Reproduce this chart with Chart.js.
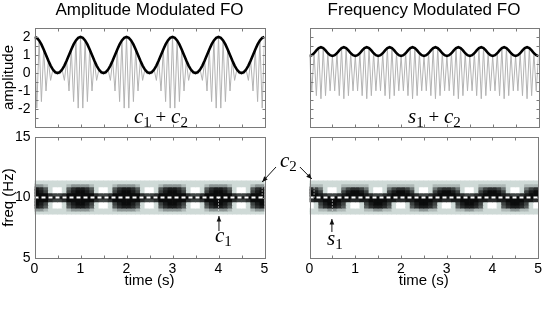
<!DOCTYPE html>
<html>
<head>
<meta charset="utf-8">
<script src="https://cdn.jsdelivr.net/npm/chart.js@4"></script>
<style>
  html, body { margin: 0; padding: 0; background: #fff; }
  #page { position: relative; width: 545px; height: 318px; overflow: hidden; }
  canvas { position: absolute; left: 0; top: 0; }
  .note { position: absolute; font: 19px "Liberation Serif", serif; color: #000; white-space: nowrap; line-height: 20px; }
  .note i { font-size: 21px; }
  .note sub { font-size: 15px; line-height: 0; vertical-align: -4px; }
</style>
</head>
<body>
<div id="page">
  <canvas id="am_trace" width="545" height="318"></canvas>
  <canvas id="fm_trace" width="545" height="318"></canvas>
  <canvas id="am_spec" width="545" height="318"></canvas>
  <canvas id="fm_spec" width="545" height="318"></canvas>
  <div class="note" style="left:134px;top:106px"><i>c</i><sub>1</sub> + <i>c</i><sub>2</sub></div>
  <div class="note" style="left:408px;top:106px"><i>s</i><sub>1</sub> + <i>c</i><sub>2</sub></div>
  <div class="note" style="left:280px;top:150px"><i>c</i><sub>2</sub></div>
  <div class="note" style="left:215px;top:225px"><i>c</i><sub>1</sub></div>
  <div class="note" style="left:327px;top:228px"><i>s</i><sub>1</sub></div>
</div>
<script>
var time_s = [0,0.05,0.1,0.15,0.2,0.25,0.3,0.35,0.4,0.45,0.5,0.55,0.6,0.65,0.7,0.75,0.8,0.85,0.9,0.95,
  1,1.05,1.1,1.15,1.2,1.25,1.3,1.35,1.4,1.45,1.5,1.55,1.6,1.65,1.7,1.75,1.8,1.85,1.9,1.95,
  2,2.05,2.1,2.15,2.2,2.25,2.3,2.35,2.4,2.45,2.5,2.55,2.6,2.65,2.7,2.75,2.8,2.85,2.9,2.95,
  3,3.05,3.1,3.15,3.2,3.25,3.3,3.35,3.4,3.45,3.5,3.55,3.6,3.65,3.7,3.75,3.8,3.85,3.9,3.95,
  4,4.05,4.1,4.15,4.2,4.25,4.3,4.35,4.4,4.45,4.5,4.55,4.6,4.65,4.7,4.75,4.8,4.85,4.9,4.95,5];

var am_wave = [2,-1.95,1.81,-1.59,1.31,-1,0.69,-0.41,0.19,-0.05,0,-0.05,0.19,-0.41,0.69,-1,1.31,-1.59,1.81,-1.95,
  2,-1.95,1.81,-1.59,1.31,-1,0.69,-0.41,0.19,-0.05,0,-0.05,0.19,-0.41,0.69,-1,1.31,-1.59,1.81,-1.95,
  2,-1.95,1.81,-1.59,1.31,-1,0.69,-0.41,0.19,-0.05,0,-0.05,0.19,-0.41,0.69,-1,1.31,-1.59,1.81,-1.95,
  2,-1.95,1.81,-1.59,1.31,-1,0.69,-0.41,0.19,-0.05,0,-0.05,0.19,-0.41,0.69,-1,1.31,-1.59,1.81,-1.95,
  2,-1.95,1.81,-1.59,1.31,-1,0.69,-0.41,0.19,-0.05,0,-0.05,0.19,-0.41,0.69,-1,1.31,-1.59,1.81,-1.95,2];
var am_env = [2,1.95,1.81,1.59,1.31,1,0.69,0.41,0.19,0.05,0,0.05,0.19,0.41,0.69,1,1.31,1.59,1.81,1.95,
  2,1.95,1.81,1.59,1.31,1,0.69,0.41,0.19,0.05,0,0.05,0.19,0.41,0.69,1,1.31,1.59,1.81,1.95,
  2,1.95,1.81,1.59,1.31,1,0.69,0.41,0.19,0.05,0,0.05,0.19,0.41,0.69,1,1.31,1.59,1.81,1.95,
  2,1.95,1.81,1.59,1.31,1,0.69,0.41,0.19,0.05,0,0.05,0.19,0.41,0.69,1,1.31,1.59,1.81,1.95,
  2,1.95,1.81,1.59,1.31,1,0.69,0.41,0.19,0.05,0,0.05,0.19,0.41,0.69,1,1.31,1.59,1.81,1.95,2];

var fm_wave = [0.95,-0.99,1.1,-1.26,1.38,-1.43,1.38,-1.26,1.1,-0.99,0.95,-0.99,1.1,-1.26,1.38,-1.43,1.38,-1.26,1.1,-0.99,
  0.95,-0.99,1.1,-1.26,1.38,-1.43,1.38,-1.26,1.1,-0.99,0.95,-0.99,1.1,-1.26,1.38,-1.43,1.38,-1.26,1.1,-0.99,
  0.95,-0.99,1.1,-1.26,1.38,-1.43,1.38,-1.26,1.1,-0.99,0.95,-0.99,1.1,-1.26,1.38,-1.43,1.38,-1.26,1.1,-0.99,
  0.95,-0.99,1.1,-1.26,1.38,-1.43,1.38,-1.26,1.1,-0.99,0.95,-0.99,1.1,-1.26,1.38,-1.43,1.38,-1.26,1.1,-0.99,
  0.95,-0.99,1.1,-1.26,1.38,-1.43,1.38,-1.26,1.1,-0.99,0.95,-0.99,1.1,-1.26,1.38,-1.43,1.38,-1.26,1.1,-0.99,0.95];
var fm_env = [0.95,0.99,1.1,1.26,1.38,1.43,1.38,1.26,1.1,0.99,0.95,0.99,1.1,1.26,1.38,1.43,1.38,1.26,1.1,0.99,
  0.95,0.99,1.1,1.26,1.38,1.43,1.38,1.26,1.1,0.99,0.95,0.99,1.1,1.26,1.38,1.43,1.38,1.26,1.1,0.99,
  0.95,0.99,1.1,1.26,1.38,1.43,1.38,1.26,1.1,0.99,0.95,0.99,1.1,1.26,1.38,1.43,1.38,1.26,1.1,0.99,
  0.95,0.99,1.1,1.26,1.38,1.43,1.38,1.26,1.1,0.99,0.95,0.99,1.1,1.26,1.38,1.43,1.38,1.26,1.1,0.99,
  0.95,0.99,1.1,1.26,1.38,1.43,1.38,1.26,1.1,0.99,0.95,0.99,1.1,1.26,1.38,1.43,1.38,1.26,1.1,0.99,0.95];

// spectrogram cells: one list per freq row, one level (0 to 9) per 0.1 s
var spec_times = [0.05,0.15,0.25,0.35,0.45,0.55,0.65,0.75,0.85,0.95,1.05,1.15,1.25,1.35,1.45,1.55,1.65,1.75,1.85,1.95,
  2.05,2.15,2.25,2.35,2.45,2.55,2.65,2.75,2.85,2.95,3.05,3.15,3.25,3.35,3.45,3.55,3.65,3.75,3.85,3.95,
  4.05,4.15,4.25,4.35,4.45,4.55,4.65,4.75,4.85,4.95];
var spec_freqs = [11.25,11,10.75,10.5,10.25,10,9.75,9.5,9.25,9,8.75];

var am_cells = [
  [1,1,1,1,1,1,1,1,1,1, 1,1,1,1,1,1,1,1,1,1, 1,1,1,1,1,1,1,1,1,1, 1,1,1,1,1,1,1,1,1,1, 1,1,1,1,1,1,1,1,1,1],
  [3,3,2,1,1,1,1,2,3,3, 3,3,2,1,1,1,1,2,3,3, 3,3,2,1,1,1,1,2,3,3, 3,3,2,1,1,1,1,2,3,3, 3,3,2,1,1,1,1,2,3,3],
  [8,7,5,1,0,0,1,5,7,8, 8,7,5,1,0,0,1,5,7,8, 8,7,5,1,0,0,1,5,7,8, 8,7,5,1,0,0,1,5,7,8, 8,7,5,1,0,0,1,5,7,8],
  [9,8,6,1,0,0,1,6,8,9, 9,8,6,1,0,0,1,6,8,9, 9,8,6,1,0,0,1,6,8,9, 9,8,6,1,0,0,1,6,8,9, 9,8,6,1,0,0,1,6,8,9],
  [9,9,9,7,6,6,7,9,9,9, 9,9,9,7,6,6,7,9,9,9, 9,9,9,7,6,6,7,9,9,9, 9,9,9,7,6,6,7,9,9,9, 9,9,9,7,6,6,7,9,9,9],
  [9,9,9,9,8,8,9,9,9,9, 9,9,9,9,8,8,9,9,9,9, 9,9,9,9,8,8,9,9,9,9, 9,9,9,9,8,8,9,9,9,9, 9,9,9,9,8,8,9,9,9,9],
  [9,9,9,7,6,6,7,9,9,9, 9,9,9,7,6,6,7,9,9,9, 9,9,9,7,6,6,7,9,9,9, 9,9,9,7,6,6,7,9,9,9, 9,9,9,7,6,6,7,9,9,9],
  [9,8,6,1,0,0,1,6,8,9, 9,8,6,1,0,0,1,6,8,9, 9,8,6,1,0,0,1,6,8,9, 9,8,6,1,0,0,1,6,8,9, 9,8,6,1,0,0,1,6,8,9],
  [8,7,5,1,0,0,1,5,7,8, 8,7,5,1,0,0,1,5,7,8, 8,7,5,1,0,0,1,5,7,8, 8,7,5,1,0,0,1,5,7,8, 8,7,5,1,0,0,1,5,7,8],
  [3,3,2,1,1,1,1,2,3,3, 3,3,2,1,1,1,1,2,3,3, 3,3,2,1,1,1,1,2,3,3, 3,3,2,1,1,1,1,2,3,3, 3,3,2,1,1,1,1,2,3,3],
  [1,1,1,1,1,1,1,1,1,1, 1,1,1,1,1,1,1,1,1,1, 1,1,1,1,1,1,1,1,1,1, 1,1,1,1,1,1,1,1,1,1, 1,1,1,1,1,1,1,1,1,1]
];
var fm_cells = [
  [1,1,1,1,1,1,1,1,1,1, 1,1,1,1,1,1,1,1,1,1, 1,1,1,1,1,1,1,1,1,1, 1,1,1,1,1,1,1,1,1,1, 1,1,1,1,1,1,1,1,1,1],
  [2,2,2,1,1,1,1,2,2,2, 2,2,2,1,1,1,1,2,2,2, 2,2,2,1,1,1,1,2,2,2, 2,2,2,1,1,1,1,2,2,2, 2,2,2,1,1,1,1,2,2,2],
  [7,6,4,1,0,0,1,4,6,7, 7,6,4,1,0,0,1,4,6,7, 7,6,4,1,0,0,1,4,6,7, 7,6,4,1,0,0,1,4,6,7, 7,6,4,1,0,0,1,4,6,7],
  [9,8,6,1,0,0,1,6,8,9, 9,8,6,1,0,0,1,6,8,9, 9,8,6,1,0,0,1,6,8,9, 9,8,6,1,0,0,1,6,8,9, 9,8,6,1,0,0,1,6,8,9],
  [9,9,8,7,6,6,7,8,9,9, 9,9,8,7,6,6,7,8,9,9, 9,9,8,7,6,6,7,8,9,9, 9,9,8,7,6,6,7,8,9,9, 9,9,8,7,6,6,7,8,9,9],
  [8,9,9,9,9,9,9,9,9,8, 8,9,9,9,9,9,9,9,9,8, 8,9,9,9,9,9,9,9,9,8, 8,9,9,9,9,9,9,9,9,8, 8,9,9,9,9,9,9,9,9,8],
  [7,8,8,9,9,9,9,8,8,7, 7,8,8,9,9,9,9,8,8,7, 7,8,8,9,9,9,9,8,8,7, 7,8,8,9,9,9,9,8,8,7, 7,8,8,9,9,9,9,8,8,7],
  [0,1,6,8,9,9,8,6,1,0, 0,1,6,8,9,9,8,6,1,0, 0,1,6,8,9,9,8,6,1,0, 0,1,6,8,9,9,8,6,1,0, 0,1,6,8,9,9,8,6,1,0],
  [0,1,5,7,8,8,7,5,1,0, 0,1,5,7,8,8,7,5,1,0, 0,1,5,7,8,8,7,5,1,0, 0,1,5,7,8,8,7,5,1,0, 0,1,5,7,8,8,7,5,1,0],
  [1,1,2,2,3,3,2,2,1,1, 1,1,2,2,3,3,2,2,1,1, 1,1,2,2,3,3,2,2,1,1, 1,1,2,2,3,3,2,2,1,1, 1,1,2,2,3,3,2,2,1,1],
  [1,1,1,1,1,1,1,1,1,1, 1,1,1,1,1,1,1,1,1,1, 1,1,1,1,1,1,1,1,1,1, 1,1,1,1,1,1,1,1,1,1, 1,1,1,1,1,1,1,1,1,1]
];

var ridge_times = [0,5];
var ridge_freqs = [10,10];
var am_c1_times = [4,4];
var am_c1_freqs = [10,8.9];
var am_c2_times = [4.95,4.95];
var am_c2_freqs = [10,11];
var fm_s1_times = [0.5,0.5];
var fm_s1_freqs = [10,8.9];
var fm_c2_times = [0.1,0.1];
var fm_c2_freqs = [10,11];

var level_cols = ['#ffffff','#cfdad7','#aeb8b6','#8c9594','#6e7675','#555b5a','#3f4443','#2b2e2e','#1a1c1c','#0b0c0c'];
var axis_col = '#7a7a7a';
var label_font = 'Liberation Sans';
var row_h = 0.25;

function pairs (xs, ys) {
  return xs.map(function (x, i) { return {x: x, y: ys[i]}; });
}

// frame, inward ticks and the small arrows
var frame_plugin = {
  id: 'frame',
  afterDraw: function (chart, args, opts) {
    var ctx = chart.ctx, a = chart.chartArea;
    var l = Math.round(a.left) + 0.5, r = Math.round(a.right) + 0.5;
    var t = Math.round(a.top) + 0.5, b = Math.round(a.bottom) + 0.5;
    ctx.save();
    ctx.strokeStyle = axis_col;
    ctx.lineWidth = 1;
    ctx.strokeRect(l, t, r - l, b - t);
    ctx.beginPath();
    chart.scales.x.ticks.forEach(function (tick, i) {
      var px = Math.round(chart.scales.x.getPixelForTick(i)) + 0.5;
      ctx.moveTo(px, t); ctx.lineTo(px, t + 3);
      ctx.moveTo(px, b); ctx.lineTo(px, b - 3);
    });
    chart.scales.y.ticks.forEach(function (tick, i) {
      var py = Math.round(chart.scales.y.getPixelForTick(i)) + 0.5;
      ctx.moveTo(l, py); ctx.lineTo(l + 3, py);
      ctx.moveTo(r, py); ctx.lineTo(r - 3, py);
    });
    ctx.stroke();

    ctx.strokeStyle = '#111';
    ctx.fillStyle = '#111';
    (opts.arrows || []).forEach(function (ar) {
      var x0 = chart.scales.x.getPixelForValue(ar[0]), y0 = chart.scales.y.getPixelForValue(ar[1]);
      var x1 = chart.scales.x.getPixelForValue(ar[2]), y1 = chart.scales.y.getPixelForValue(ar[3]);
      var ang = Math.atan2(y1 - y0, x1 - x0);
      ctx.beginPath();
      ctx.moveTo(x0, y0); ctx.lineTo(x1, y1);
      ctx.stroke();
      ctx.beginPath();
      ctx.moveTo(x1, y1);
      ctx.lineTo(x1 - 6 * Math.cos(ang - 0.4), y1 - 6 * Math.sin(ang - 0.4));
      ctx.lineTo(x1 - 6 * Math.cos(ang + 0.4), y1 - 6 * Math.sin(ang + 0.4));
      ctx.closePath();
      ctx.fill();
    });
    ctx.restore();
  }
};

function base_options (o) {
  var tick_font = {family: label_font, size: 14};
  return {
    responsive: false,
    animation: false,
    devicePixelRatio: 1,
    layout: {padding: {left: o.left, right: 545 - o.right, top: o.title ? 0 : o.top, bottom: o.bottom}},
    plugins: {
      legend: {display: false},
      tooltip: {enabled: false},
      title: {
        display: !!o.title,
        text: o.title,
        fullSize: false,
        color: '#000',
        font: {family: label_font, size: 17, weight: 'normal', lineHeight: 1.2},
        padding: {top: 0, bottom: o.top - 20.4}
      },
      frame: {arrows: o.arrows}
    },
    scales: {
      x: {
        type: 'linear', min: 0, max: 5, offset: false,
        grid: {display: false, drawTicks: false, offset: false}, border: {display: false},
        afterFit: function (s) { s.height = o.x_h; },
        title: {display: o.x_h > 0, text: 'time (s)', color: '#000', padding: 0,
                font: {family: label_font, size: 15}},
        ticks: {
          display: o.x_h > 0, stepSize: 0.5, autoSkip: false, maxRotation: 0, padding: 3,
          color: '#000', font: tick_font,
          callback: function (v) { return Number.isInteger(v) ? v : ''; }
        }
      },
      y: {
        type: 'linear', min: o.y_min, max: o.y_max,
        grid: {display: false, drawTicks: false}, border: {display: false},
        afterFit: function (s) { s.width = o.y_w; },
        title: {display: !!o.y_title, text: o.y_title, color: '#000', padding: 0,
                font: {family: label_font, size: 15}},
        ticks: {
          display: o.y_w > 0, stepSize: o.y_step, autoSkip: false, padding: 4, align: o.y_align,
          color: '#000', font: tick_font,
          callback: o.y_cb
        }
      }
    }
  };
}

function create_trace_chart (chart_id, wave, env, o) {
  new Chart(document.getElementById(chart_id), {
    type: 'line',
    data: {
      datasets: [
        {data: pairs(time_s, env), borderColor: '#000', borderWidth: 2.6, pointRadius: 0, order: 1},
        {data: pairs(time_s, wave), borderColor: '#b3b3b3', borderWidth: 1, pointRadius: 0, order: 2}
      ]
    },
    options: base_options(o),
    plugins: [frame_plugin]
  });
}

function create_spec_chart (chart_id, cells, marks, o) {
  var datasets = [];
  marks.forEach(function (m) {
    datasets.push({type: 'line', data: pairs(m[0], m[1]), borderColor: '#fff', borderWidth: m[2],
                   borderDash: m[3], pointRadius: 0, order: 1});
  });
  spec_freqs.forEach(function (freq, r) {
    datasets.push({
      type: 'bar',
      data: spec_times.map(function (t) { return {x: t, y: [freq - row_h / 2, freq + row_h / 2]}; }),
      backgroundColor: cells[r].map(function (lv) { return level_cols[lv]; }),
      barPercentage: 1, categoryPercentage: 1, grouped: false, order: 2
    });
  });
  new Chart(document.getElementById(chart_id), {
    type: 'bar',
    data: {datasets: datasets},
    options: base_options(o),
    plugins: [frame_plugin]
  });
}

function amp_label (v) { return (Number.isInteger(v) && v >= -2 && v <= 2) ? v : ''; }
function freq_label (v) { return v; }

var top_opts = {top: 28, bottom: 191, x_h: 0, y_min: -3, y_max: 2.5, y_step: 0.5, y_cb: amp_label};
var low_opts = {top: 137, bottom: 28, x_h: 32, y_min: 5, y_max: 15, y_step: 5, y_cb: freq_label, y_align: 'inner'};

create_trace_chart('am_trace', am_wave, am_env, Object.assign({}, top_opts,
  {left: 0, right: 264.5, y_w: 34.5, y_title: 'amplitude', title: 'Amplitude Modulated FO'}));
create_trace_chart('fm_trace', fm_wave, fm_env, Object.assign({}, top_opts,
  {left: 309.5, right: 538.5, y_w: 0, title: 'Frequency Modulated FO'}));

create_spec_chart('am_spec', am_cells,
  [[ridge_times, ridge_freqs, 2, [4, 3]], [am_c1_times, am_c1_freqs, 1, [1, 2]], [am_c2_times, am_c2_freqs, 1, [1, 2]]],
  Object.assign({}, low_opts, {left: 0, right: 264.5, y_w: 34.5, y_title: 'freq (Hz)',
    arrows: [[4.01, 7.23, 4.01, 8.47], [5.25, 12.52, 4.95, 11.28]]}));
create_spec_chart('fm_spec', fm_cells,
  [[ridge_times, ridge_freqs, 2, [4, 3]], [fm_s1_times, fm_s1_freqs, 1, [1, 2]], [fm_c2_times, fm_c2_freqs, 1, [1, 2]]],
  Object.assign({}, low_opts, {left: 309.5, right: 538.5, y_w: 0,
    arrows: [[0.49, 7.15, 0.49, 8.22], [-0.21, 12.52, 0.05, 11.53]]}));
</script>
</body>
</html>
